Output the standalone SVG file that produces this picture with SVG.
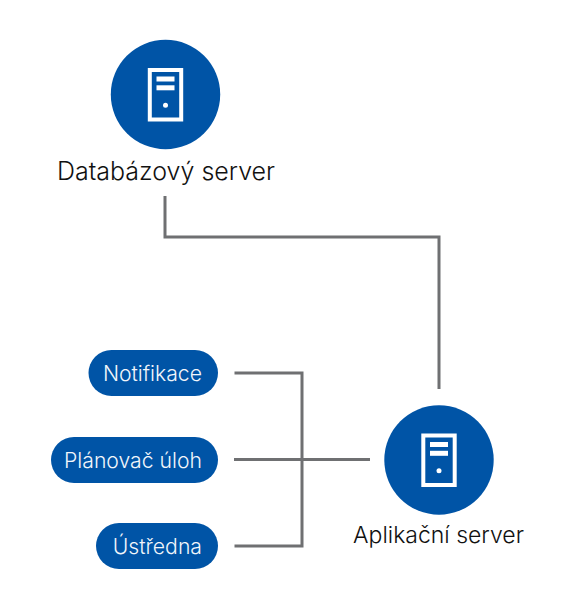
<svg xmlns="http://www.w3.org/2000/svg" width="568" height="611" viewBox="0 0 568 611">
<style>
.disc{fill:#0054a6}
.frame{fill:none;stroke:#fff;stroke-width:4}
.bar,.dot{fill:#fff}
.pill{fill:#0054a6}
.plabel{font-family:"Inter","Liberation Sans",sans-serif;font-weight:300;font-size:21.200px;fill:#f2f6fb;text-anchor:end}
.nlabel{font-family:"Inter","Liberation Sans",sans-serif;font-weight:300;font-size:23px;fill:#111;text-anchor:middle}
.conn{fill:none;stroke:#6f7072;stroke-width:3}
</style>
<defs>
<g id="server">
<circle class="disc" r="54.7"/>
<rect class="frame" x="-15.700" y="-24.500" width="31.400" height="49.500"/>
<rect class="bar" x="-9" y="-18" width="18" height="5"/>
<rect class="bar" x="-9" y="-9.200" width="18" height="5"/>
<circle class="dot" cy="10.800" r="2.500"/>
</g>
</defs>
<g id="connectors">
<path class="conn" d="M165 196V237H439V389"/>
<path class="conn" d="M234.500 373H302V546H234.500"/>
<path class="conn" d="M234 459.500H370"/>
</g>
<g id="db-server">
<use href="#server" x="165.500" y="94.500"/>
<text class="nlabel" x="166" y="180" style="font-size:25px">Databázový server</text>
</g>
<g id="app-server">
<use href="#server" x="439" y="460"/>
<text class="nlabel" x="438.500" y="543">Aplikační server</text>
</g>
<g id="notifikace">
<rect class="pill" x="88.500" y="350" width="129.500" height="46" rx="23"/>
<text class="plabel" x="202" y="381">Notifikace</text>
</g>
<g id="planovac">
<rect class="pill" x="51" y="437" width="167" height="46" rx="23"/>
<text class="plabel" x="202" y="468">Plánovač úloh</text>
</g>
<g id="ustredna">
<rect class="pill" x="96" y="523" width="122" height="46" rx="23"/>
<text class="plabel" x="202" y="554">Ústředna</text>
</g>
</svg>
